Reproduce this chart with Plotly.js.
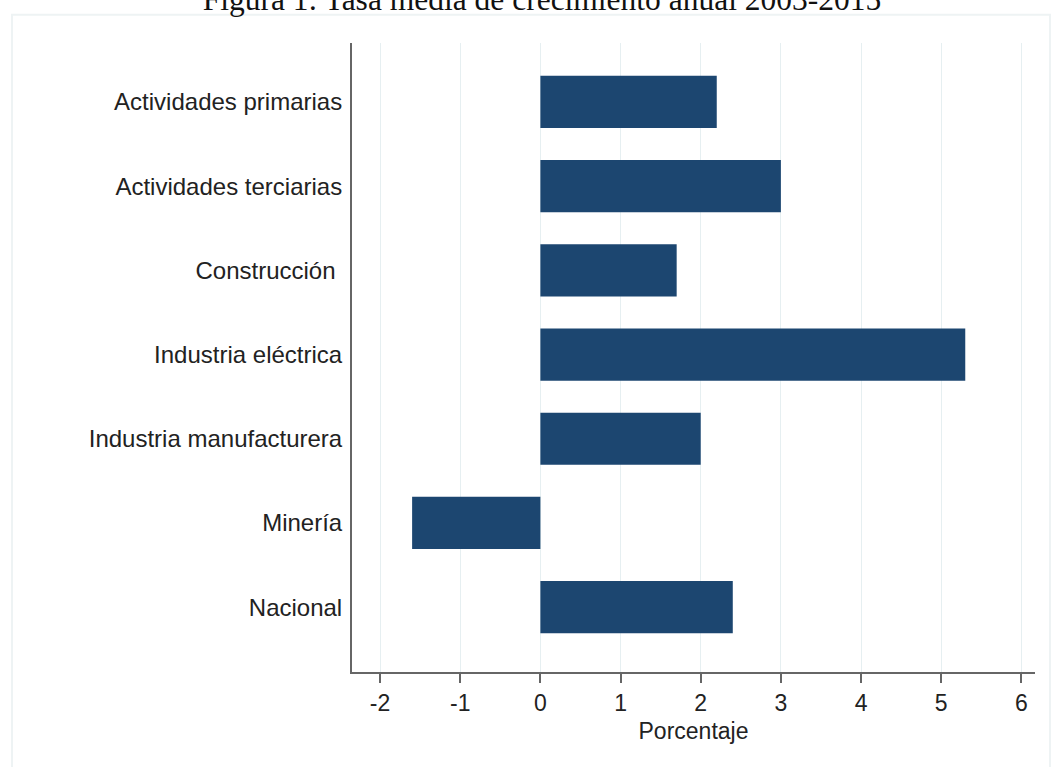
<!DOCTYPE html>
<html>
<head>
<meta charset="utf-8">
<script src="https://cdn.plot.ly/plotly-3.0.1.min.js"></script>
<style>html,body{margin:0;padding:0;background:#fff;}#chart{width:1061px;height:767px;}</style>
</head>
<body>
<div id="chart"></div>
<script>
const categories = ["Actividades primarias", "Actividades terciarias", "Construcción ", "Industria eléctrica", "Industria manufacturera", "Minería", "Nacional"];
const values = [2.2, 3.0, 1.7, 5.3, 2.0, -1.6, 2.4];
const xTicks = [-2, -1, 0, 1, 2, 3, 4, 5, 6];
const titleText = "Figura 1: Tasa media de crecimiento anual 2003-2015";
const xTitle = "Porcentaje";

const trace = {
  type: "bar",
  orientation: "h",
  x: values,
  y: categories,
  width: 0.62,
  marker: {color: "#1c4670", line: {width: 0}},
  hoverinfo: "x+y"
};

const sans = "Liberation Sans, Arial, Helvetica, sans-serif";

const layout = {
  width: 1061, height: 767,
  paper_bgcolor: "#ffffff", plot_bgcolor: "#ffffff",
  margin: {l: 352, r: 26, t: 43, b: 95, pad: 0},
  showlegend: false,
  title: {
    text: titleText,
    font: {family: "Liberation Serif, Times New Roman, serif", size: 31.5, color: "#111"},
    x: 542 / 1061, xref: "container", xanchor: "center",
    y: 1 - 10 / 767, yref: "container", yanchor: "bottom"
  },
  xaxis: {
    range: [-2.35, 6.17],
    tickvals: xTicks,
    ticktext: xTicks.map(String),
    ticks: "outside", ticklen: 9, tickwidth: 2, tickcolor: "#666",
    showline: true, linecolor: "#666", linewidth: 2,
    showgrid: true, gridcolor: "#e6eff1", gridwidth: 1,
    zeroline: false,
    tickfont: {family: sans, size: 23, color: "#222"},
    title: {text: xTitle, font: {family: sans, size: 23, color: "#222"}, standoff: 8}
  },
  yaxis: {
    type: "category",
    categoryorder: "array", categoryarray: categories,
    range: [6.77, -0.70],
    showline: true, linecolor: "#666", linewidth: 2,
    ticks: "", showgrid: false, zeroline: false,
    ticklabelstandoff: 3,
    tickfont: {family: sans, size: 24, color: "#222"}
  },
  shapes: [{
    type: "rect", xref: "paper", yref: "paper",
    x0: -0.4978, x1: 1.022, y0: -0.16, y1: 1.045,
    line: {color: "#eef3f4", width: 2}, fillcolor: "rgba(0,0,0,0)", layer: "below"
  }]
};

Plotly.newPlot("chart", [trace], layout, {displayModeBar: false, staticPlot: true});
</script>
</body>
</html>
